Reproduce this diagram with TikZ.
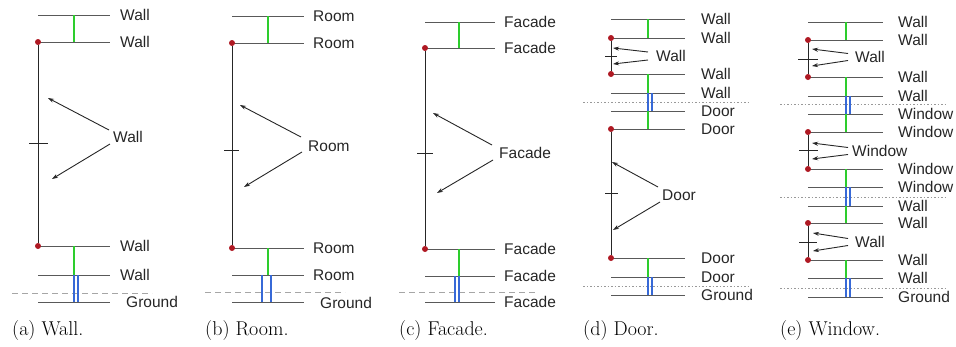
\documentclass[tikz,border=0pt]{standalone}
\usepackage{fontspec}
\setsansfont{Liberation Sans}
\usetikzlibrary{arrows.meta}
\definecolor{linkgreen}{RGB}{45,205,45}
\definecolor{linkblue}{RGB}{55,105,215}
\definecolor{jointred}{RGB}{175,25,35}

\begin{document}
\begin{tikzpicture}[x=1pt, y=-1pt]
  \tikzstyle{storey} = [draw=black!65, line width=1pt]
  \tikzstyle{wire} = [draw=black!85, line width=1pt]
  \tikzstyle{joint} = [circle, fill=jointred, inner sep=0pt, minimum size=6pt]
  \tikzstyle{lbl} = [anchor=west, inner sep=0pt, text=black!85, font=\sffamily\fontsize{15.5}{16}\selectfont]
  \tikzstyle{subcap} = [anchor=west, inner sep=0pt, font=\fontsize{20}{22}\selectfont]
  \tikzstyle{glink} = [draw=linkgreen, line width=1.6pt]
  \tikzstyle{blink} = [draw=linkblue, line width=1.3pt]
  \tikzstyle{ground} = [draw=black!35, line width=0.8pt, dash pattern=on 6pt off 4pt]
  \tikzstyle{split} = [draw=black!40, line width=0.8pt, dash pattern=on 1.5pt off 2pt]
  \tikzstyle{arr} = [draw=black!85, line width=0.9pt, -{Stealth[length=6pt, width=4pt]}]

  \useasboundingbox (0,0) rectangle (956,346);

  % (a) Wall
  \path[ground] (12,293) -- (152,293);
  \foreach \y/\t [count=\i] in {15/Wall, 42/Wall, 246/Wall, 275/Wall} {
    \draw[storey] (38,\y) -- (110,\y);
    \node[lbl] (a\i) at (120,\y) {\t};
  }
  \draw[storey] (38,302) -- (110,302);
  \node[lbl] (a5) at (126,302) {Ground};
  \path[glink] (74,15) -- (74,42) (74,246) -- (74,275);
  \path[blink] (74,275) -- (74,302) (78,275) -- (78,302);
  \path[wire] (29,143) -- (48,143);
  \node[joint] (ja1) at (38,42) {};
  \node[joint] (ja2) at (38,246) {};
  \path[wire] (ja1) -- (ja2);
  \node[lbl] (awall) at (113,137) {Wall};
  \coordinate (awall-up) at (48,98);
  \coordinate (awall-dn) at (52,179);
  \path[arr] ([xshift=-4pt, yshift=7pt]awall.west) -- (awall-up);
  \path[arr] ([xshift=-3pt, yshift=-7pt]awall.west) -- (awall-dn);
  \node[subcap] (capa) at (12,331) {(a) Wall.};

  % (b) Room
  \path[ground] (205,292) -- (345,292);
  \foreach \y/\t [count=\i] in {16/Room, 43/Room, 248/Room, 275/Room} {
    \draw[storey] (232,\y) -- (304,\y);
    \node[lbl] (b\i) at (313,\y) {\t};
  }
  \draw[storey] (232,302) -- (304,302);
  \node[lbl] (b5) at (320,303) {Ground};
  \path[glink] (268,16) -- (268,43) (268,248) -- (268,275);
  \path[blink] (262,275) -- (262,302) (271,275) -- (271,302);
  \path[wire] (224,150) -- (239,150);
  \node[joint] (jb1) at (232,43) {};
  \node[joint] (jb2) at (232,248) {};
  \path[wire] (jb1) -- (jb2);
  \node[lbl] (broom) at (308,146) {Room};
  \coordinate (broom-up) at (240,105);
  \coordinate (broom-dn) at (244,187);
  \path[arr] ([xshift=-7pt, yshift=9pt]broom.west) -- (broom-up);
  \path[arr] ([xshift=-6pt, yshift=-6pt]broom.west) -- (broom-dn);
  \node[subcap] (capb) at (205,331) {(b) Room.};

  % (c) Facade
  \path[ground] (399,292) -- (537,292);
  \foreach \y/\t [count=\i] in {22/Facade, 48/Facade, 249/Facade, 276/Facade, 302/Facade} {
    \draw[storey] (425,\y) -- (495,\y);
    \node[lbl] (c\i) at (504,\y) {\t};
  }
  \path[glink] (459,22) -- (459,48) (459,249) -- (459,276);
  \path[blink] (455,276) -- (455,302) (459,276) -- (459,302);
  \path[wire] (417,153) -- (433,153);
  \node[joint] (jc1) at (425,48) {};
  \node[joint] (jc2) at (425,249) {};
  \path[wire] (jc1) -- (jc2);
  \node[lbl] (cfacade) at (499,153) {Facade};
  \coordinate (cfacade-up) at (433,113);
  \coordinate (cfacade-dn) at (437,193);
  \path[arr] ([xshift=-7pt, yshift=8pt]cfacade.west) -- (cfacade-up);
  \path[arr] ([xshift=-6pt, yshift=-7pt]cfacade.west) -- (cfacade-dn);
  \node[subcap] (capc) at (399,331) {(c) Facade.};

  % (d) Door
  \path[split] (583,102) -- (748,102) (583,286) -- (748,286);
  \foreach \y/\t [count=\i] in {19/Wall, 38/Wall, 74/Wall, 93/Wall, 111/Door, 129/Door, 258/Door, 277/Door, 295/Ground} {
    \draw[storey] (611,\y) -- (685,\y);
    \node[lbl] (d\i) at (701,\y) {\t};
  }
  \foreach \a/\b in {19/38, 74/93, 111/129, 258/277}
    \path[glink] (648,\a) -- (648,\b);
  \foreach \a/\b in {93/111, 277/295}
    \path[blink] (648,\a) -- (648,\b) (652,\a) -- (652,\b);
  \path[wire] (605,56) -- (617,56) (605,193) -- (618,193);
  \foreach \y [count=\i] in {38, 74, 129, 258}
    \node[joint] (jd\i) at (611,\y) {};
  \path[wire] (jd1) -- (jd2) (jd3) -- (jd4);
  \node[lbl] (dwall) at (656,56) {Wall};
  \coordinate (dwall-up) at (613,48);
  \coordinate (dwall-dn) at (613,64);
  \path[arr] ([xshift=-8pt, yshift=4pt]dwall.west) -- (dwall-up);
  \path[arr] ([xshift=-8pt, yshift=-4pt]dwall.west) -- (dwall-dn);
  \node[lbl] (ddoor) at (662,195) {Door};
  \coordinate (ddoor-up) at (612,162);
  \coordinate (ddoor-dn) at (613,230);
  \path[arr] ([xshift=-4pt, yshift=8pt]ddoor.west) -- (ddoor-up);
  \path[arr] ([xshift=-2pt, yshift=-7pt]ddoor.west) -- (ddoor-dn);
  \node[subcap] (capd) at (583,331) {(d) Door.};

  % (e) Window
  \path[split] (780,104) -- (947,104) (780,197) -- (947,197) (780,288) -- (947,288);
  \foreach \y/\t [count=\i] in {22/Wall, 40/Wall, 77/Wall, 96/Wall, 114/Window, 132/Window, 169/Window, 187/Window, 206/Wall, 223/Wall, 260/Wall, 278/Wall, 297/Ground} {
    \draw[storey] (808,\y) -- (883,\y);
    \node[lbl] (e\i) at (898,\y) {\t};
  }
  \foreach \a/\b in {22/40, 77/96, 114/132, 169/187, 206/223, 260/278}
    \path[glink] (846,\a) -- (846,\b);
  \foreach \a/\b in {96/114, 187/206, 278/297}
    \path[blink] (846,\a) -- (846,\b) (850,\a) -- (850,\b);
  \path[wire] (798,59) -- (818,59) (799,150) -- (818,150) (799,242) -- (817,242);
  \foreach \y [count=\i] in {40, 77, 132, 169, 223, 260}
    \node[joint] (je\i) at (808,\y) {};
  \path[wire] (je1) -- (je2) (je3) -- (je4) (je5) -- (je6);
  \node[lbl] (ewall) at (855,57) {Wall};
  \coordinate (ewall-up) at (812,49);
  \coordinate (ewall-dn) at (812,66);
  \path[arr] ([xshift=-7pt, yshift=3.5pt]ewall.west) -- (ewall-up);
  \path[arr] ([xshift=-7pt, yshift=-3.5pt]ewall.west) -- (ewall-dn);
  \node[lbl] (ewin) at (852,151) {Window};
  \coordinate (ewin-up) at (812,143);
  \coordinate (ewin-dn) at (812,159);
  \path[arr] ([xshift=-4pt, yshift=3.5pt]ewin.west) -- (ewin-up);
  \path[arr] ([xshift=-4pt, yshift=-3.5pt]ewin.west) -- (ewin-dn);
  \node[lbl] (ewall2) at (855,242) {Wall};
  \coordinate (ewall2-up) at (813,233);
  \coordinate (ewall2-dn) at (813,251);
  \path[arr] ([xshift=-7pt, yshift=3.5pt]ewall2.west) -- (ewall2-up);
  \path[arr] ([xshift=-7pt, yshift=-3.5pt]ewall2.west) -- (ewall2-dn);
  \node[subcap] (cape) at (780,331) {(e) Window.};
\end{tikzpicture}
\end{document}
